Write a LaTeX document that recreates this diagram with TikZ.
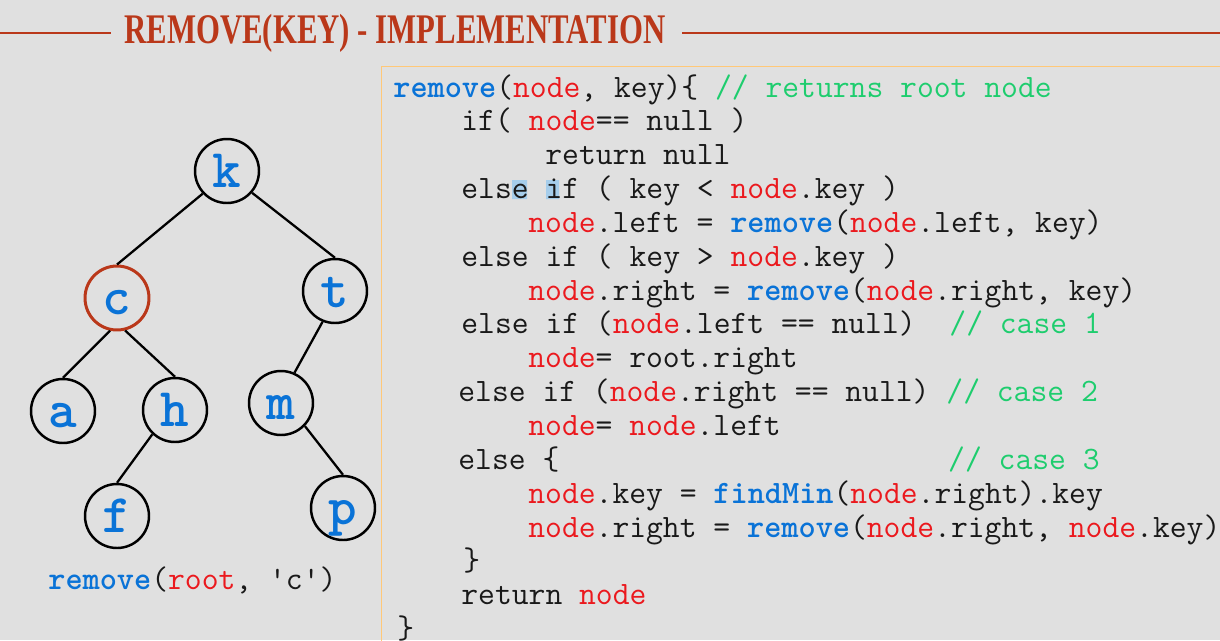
\documentclass[tikz,border=0pt]{standalone}
\usepackage{fontspec}
\usepackage{tikz}
\usepackage{xcolor}
\newfontfamily\titlefont{Liberation Serif}[FakeStretch=0.73]
\definecolor{bg}{RGB}{224,224,224}
\definecolor{titlered}{RGB}{186,56,26}
\definecolor{boxorange}{RGB}{255,200,120}
\definecolor{kwblue}{RGB}{10,115,215}
\definecolor{varred}{RGB}{235,25,30}
\definecolor{cmgreen}{RGB}{30,205,110}
\definecolor{hilite}{RGB}{165,205,235}
\definecolor{codeblack}{RGB}{25,25,25}
\newcommand\codefont{\ttfamily\fontsize{18.6}{22}\selectfont\frenchspacing}
\newcommand\keyfont{\ttfamily\bfseries\fontsize{31}{34}\selectfont}
\newcommand\kwd[1]{{\bfseries\color{kwblue}#1}}
\newcommand\vrb[1]{{\color{varred}#1}}
\newcommand\cmt[1]{{\color{cmgreen}#1}}

\begin{document}
\begin{tikzpicture}[x=.02cm,y=-.02cm,
    code/.style={anchor=base west,inner sep=0,font=\codefont,text=codeblack},
    key/.style={circle,draw,line width=1.4pt,minimum size=1.28cm,inner sep=0,
      text height=.64cm,text depth=0cm,font=\keyfont,text=kwblue}]
  \useasboundingbox[fill=bg] (0,0) rectangle (1220,640);
  \clip (0,0) rectangle (1220,640);
  \draw[line width=1.1pt,titlered] (0,33) -- (111,33) (682,33) -- (1220,33);
  \node (ti) [anchor=base west,inner sep=0,text=titlered,
    font=\titlefont\bfseries\fontsize{24}{28}\selectfont] at (124,43)
    {REMOVE(KEY) - IMPLEMENTATION};
  \draw[boxorange,line width=.6pt] (381.5,66.5) rectangle (1240,660);
  \fill[hilite] (512,180) rectangle (527,199) (546,180) rectangle (559,199);
  \path (393,97)
    node (l1) [code] {\kwd{remove}(\vrb{node}, key)\{ \cmt{// returns root node}} ++(68,33.85)
    node (l2) [code] {if( \vrb{node}== null )} ++(84,33.85)
    node (l3) [code] {return null} ++(-84,33.85)
    node (l4) [code] {else if ( key < \vrb{node}.key )} ++(67,33.85)
    node (l5) [code] {\vrb{node}.left = \kwd{remove}(\vrb{node}.left, key)} ++(-67,33.85)
    node (l6) [code] {else if ( key > \vrb{node}.key )} ++(67,33.85)
    node (l7) [code] {\vrb{node}.right = \kwd{remove}(\vrb{node}.right, key)} ++(-67,33.85)
    node (l8) [code] {else if (\vrb{node}.left == null)~~\cmt{// case 1}} ++(67,33.85)
    node (l9) [code] {\vrb{node}= root.right} ++(-70,33.85)
    node (l10) [code] {else if (\vrb{node}.right == null) \cmt{// case 2}} ++(70,33.85)
    node (l11) [code] {\vrb{node}= \vrb{node}.left} ++(-70,33.85)
    node (l12) [code] {else \{\hspace*{11.9em}\cmt{// case 3}} ++(70,33.85)
    node (l13) [code] {\vrb{node}.key = \kwd{findMin}(\vrb{node}.right).key} ++(0,33.85)
    node (l14) [code] {\vrb{node}.right = \kwd{remove}(\vrb{node}.right, \vrb{node}.key)} ++(-65,33.85)
    node (l15) [code] {\}} ++(-2,33.85)
    node (l16) [code] {return \vrb{node}} ++(-64,33.85)
    node (l17) [code] {\}}
    ;
  \node (k) [key] at (227,171) {k};
  \node (c) [key,draw=titlered,line width=1.7pt] at (117,298) {c};
  \node (t) [key] at (335,291) {t};
  \node (a) [key] at (63,411) {a};
  \node (h) [key] at (175,410) {h};
  \node (m) [key] at (281,403) {m};
  \node (f) [key] at (117,516) {f};
  \node (p) [key] at (343,508) {p};
  \draw[line width=1.3pt] (k.-137) -- (c.north);
  \draw[line width=1.3pt] (k.-41) -- (t.north);
  \draw[line width=1.3pt] (c.-102) -- (a.north);
  \draw[line width=1.3pt] (c.-76) -- (h.north);
  \draw[line width=1.3pt] (h.-133) -- (f.north);
  \draw[line width=1.3pt] (t.-112) -- (m.66);
  \draw[line width=1.3pt] (m.-44) -- (p.north);
  \node (call) [code] at (48,589) {\kwd{remove}(\vrb{root}, \textquotesingle c\textquotesingle)};
\end{tikzpicture}
\end{document}
